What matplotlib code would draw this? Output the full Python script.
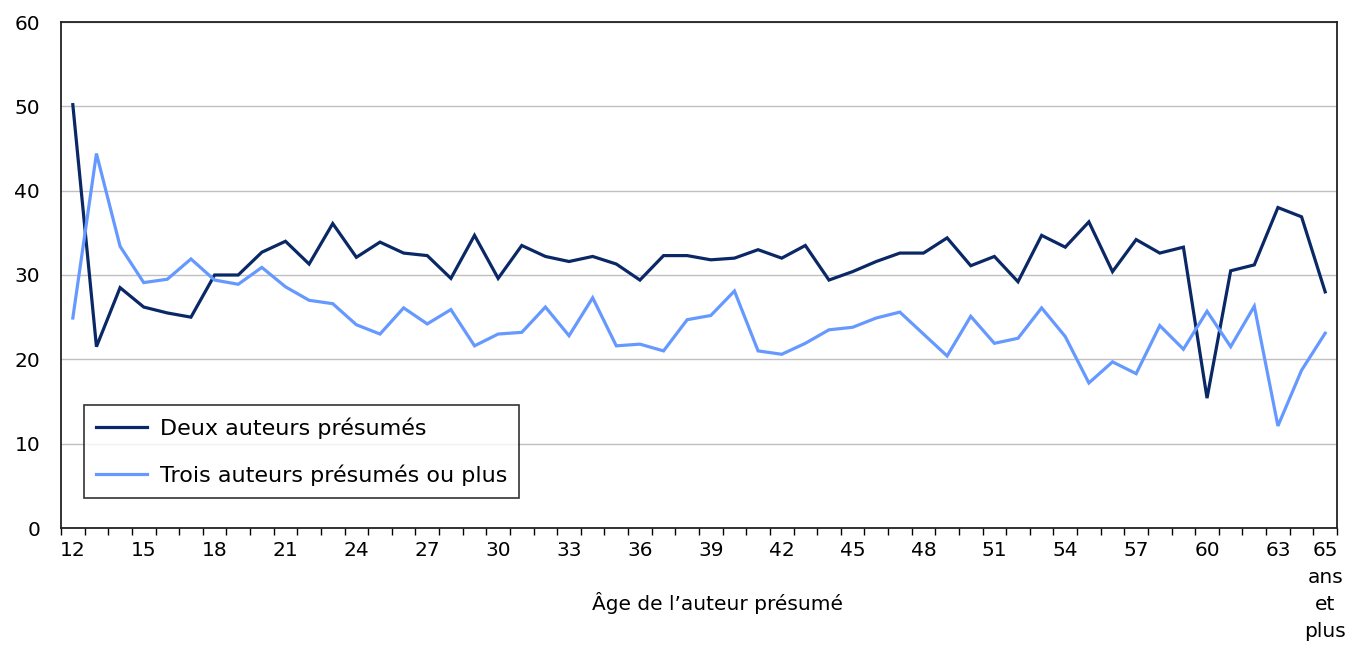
"""Line chart: share of incidents by age of accused, two vs three+ accused."""
import matplotlib
matplotlib.use('Agg')
import matplotlib.pyplot as plt
import numpy as np

ages = list(range(12, 66))
deux = [50.2, 21.5, 28.5, 26.2, 25.5, 25.0, 30.0, 30.0, 32.7, 34.0, 31.3, 36.1, 32.1,
        33.9, 32.6, 32.3, 29.6, 34.7, 29.6, 33.5, 32.2, 31.6, 32.2, 31.3, 29.4, 32.3,
        32.3, 31.8, 32.0, 33.0, 32.0, 33.5, 29.4, 30.4, 31.6, 32.6, 32.6, 34.4, 31.1,
        32.2, 29.2, 34.7, 33.3, 36.3, 30.4, 34.2, 32.6, 33.3, 15.4, 30.5, 31.2, 38.0,
        36.9, 28.0]
trois = [24.9, 44.4, 33.4, 29.1, 29.5, 31.9, 29.4, 28.9, 30.9, 28.6, 27.0, 26.6, 24.1,
         23.0, 26.1, 24.2, 25.9, 21.6, 23.0, 23.2, 26.2, 22.8, 27.3, 21.6, 21.8, 21.0,
         24.7, 25.2, 28.1, 21.0, 20.6, 21.9, 23.5, 23.8, 24.9, 25.6, 23.0, 20.4, 25.1,
         21.9, 22.5, 26.1, 22.7, 17.2, 19.7, 18.3, 24.0, 21.2, 25.7, 21.5, 26.3, 12.1,
         18.7, 23.1]
tick_ages = [12, 15, 18, 21, 24, 27, 30, 33, 36, 39, 42, 45, 48, 51, 54, 57, 60, 63, 65]
tick_labels = [str(a) for a in tick_ages[:-1]] + ['65\nans\net\nplus']
labels = ['Deux auteurs présumés', 'Trois auteurs présumés ou plus']

plt.rcParams['font.family'] = 'DejaVu Sans'
FS = 14.5
fig = plt.figure(figsize=(13.51, 6.45), dpi=100)
ax = fig.add_axes([61/1351, 1-528/645, 1276/1351, 506/645])

ax.plot(ages, deux, color='#0a2866', lw=2.3, label=labels[0], solid_joinstyle='miter')
ax.plot(ages, trois, color='#6699ff', lw=2.3, label=labels[1], solid_joinstyle='miter')

ax.set_xlim(11.5, 65.5); ax.set_ylim(0, 60)
ax.set_yticks(range(0, 61, 10))
ax.yaxis.grid(True, color='#c0c0c0', lw=1); ax.set_axisbelow(True)
ax.tick_params(axis='y', length=0, pad=15, labelsize=FS)
ax.set_xticks(tick_ages); ax.set_xticklabels(tick_labels, linespacing=1.55)
ax.set_xticks(np.arange(11.5, 66, 1), minor=True)
ax.tick_params(axis='x', which='major', length=0, pad=9, labelsize=FS)
ax.tick_params(axis='x', which='minor', length=5, width=1, direction='out', color='black')
for s in ax.spines.values():
    s.set_color('#222222'); s.set_linewidth(1.3)

ax.set_xlabel('Âge de l’auteur présumé', fontsize=FS)
ax.xaxis.set_label_coords((718-61)/1276, (528-592)/506)

leg = ax.legend(loc='lower left', bbox_to_anchor=((84-61)/1276, (528-498)/506),
                fontsize=16, frameon=True, fancybox=False, edgecolor='black',
                handlelength=2.3, handletextpad=0.55, labelspacing=1.15,
                borderpad=0.55, borderaxespad=0)
leg.get_frame().set_linewidth(1.2)

fig.savefig('out.png', dpi=100)
